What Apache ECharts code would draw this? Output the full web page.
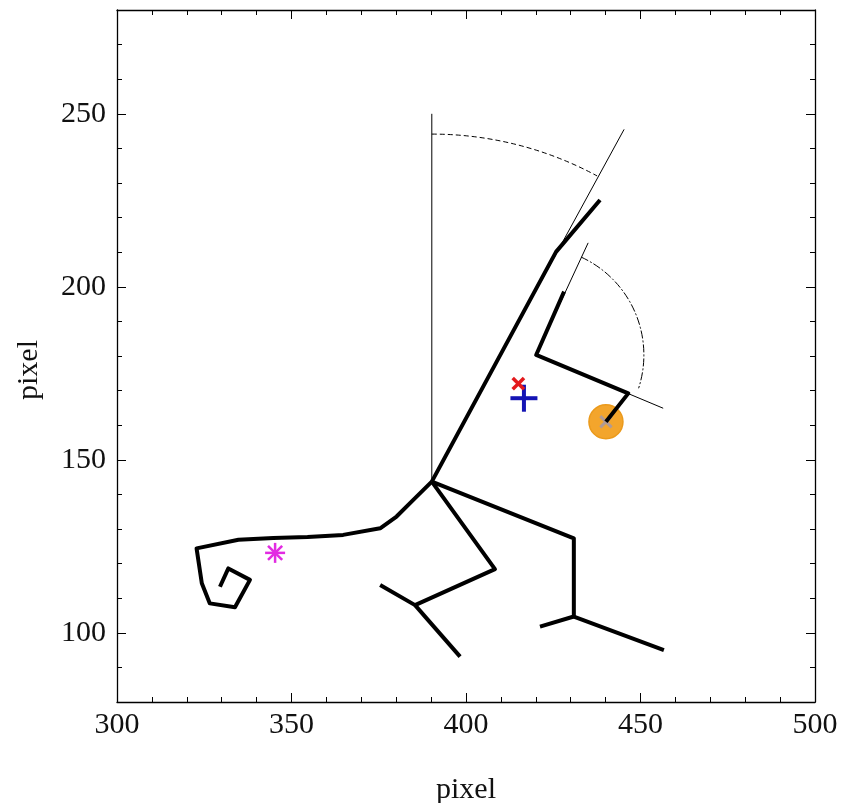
<!DOCTYPE html>
<html>
<head>
<meta charset="utf-8">
<title>pixel</title>
<script src="https://cdn.jsdelivr.net/npm/echarts@6/dist/echarts.min.js"></script>
<style>
  html, body { margin: 0; padding: 0; background: #fff; }
  #chart { width: 843px; height: 803px; }
</style>
</head>
<body>
<div id="chart"></div>
<script>
// Skeleton traced in pixel coordinates: thick polylines
const neckLine   = [[390.2, 143.7], [425.8, 210.1], [438.4, 225.1]];
const leftLimb   = [[390.2, 143.7], [384.9, 138.4], [380.1, 133.6], [375.4, 130.2], [364.8, 128.3],
                    [354.6, 127.7], [344.8, 127.4], [334.8, 126.9], [322.8, 124.4], [324.3, 114.3],
                    [326.6, 108.5], [333.8, 107.4], [338.1, 115.3], [331.9, 118.6], [329.5, 113.3]];
const limbA      = [[390.2, 143.7], [408.3, 118.4], [385.4, 108.0], [375.4, 113.8]];
const limbAFoot  = [[385.4, 108.0], [398.3, 93.1]];
const limbB      = [[390.2, 143.7], [430.9, 127.3], [430.9, 104.7], [421.2, 101.8]];
const limbBFoot  = [[430.9, 104.7], [456.7, 95.0]];
const armLine    = [[428.1, 198.6], [420.1, 180.3], [446.5, 169.2], [440.1, 161.0]];

// Thin reference lines for the measured angles
const verticalRef = [[390.2, 143.7], [390.2, 250.0]];
const neckAxis    = [[390.2, 143.7], [445.3, 245.5]];
const armAxisUp   = [[420.1, 180.3], [435.0, 212.7]];
const armAxisSide = [[420.1, 180.3], [456.5, 164.9]];

// Angle arcs: [centre x, centre y, radius, start angle (deg), end angle (deg)]
const neckArc = [[390.2, 143.7, 100, 90, 61.6]];
const armArc  = [[420.1, 180.3, 31, 65.3, -18]];

// Point markers
const redCross     = [[415.0, 172.0]];
const bluePlus     = [[416.6, 167.8]];
const magentaStar  = [[345.3, 123.1]];
const orangeTarget = [[440.1, 161.0]];

// Axis ticks
const xMin = 300, xMax = 500, xStep = 50;
const yMin = 80, yMax = 280;
const yMajorTicks = [100, 150, 200, 250];
const yMinorTicks = [80, 90, 110, 120, 130, 140, 160, 170, 180, 190, 210, 220, 230, 240, 260, 270, 280];

const FONT = 'Liberation Serif';

function polyline(data, width) {
  return {
    type: 'line', data: data, xAxisIndex: 0, yAxisIndex: 0,
    symbol: 'none', silent: true, animation: false,
    lineStyle: { color: '#000', width: width, cap: 'butt', join: 'round' },
    z: 4
  };
}

function arcSeries(data, dash) {
  return {
    type: 'custom', data: data, xAxisIndex: 0, yAxisIndex: 0, silent: true, animation: false, z: 4,
    renderItem: function (params, api) {
      const c = api.coord([api.value(0), api.value(1)]);
      const s = api.size([api.value(2), api.value(2)]);
      const r = (s[0] + s[1]) / 2;
      return {
        type: 'arc',
        shape: { cx: c[0], cy: c[1], r: r,
                 startAngle: -api.value(3) * Math.PI / 180,
                 endAngle: -api.value(4) * Math.PI / 180, clockwise: true },
        style: { stroke: '#000', fill: null, lineWidth: 1, lineDash: dash }
      };
    }
  };
}

// Marker made of straight strokes through the point, at the given angles
function strokeMarker(data, angles, half, width, color, z) {
  return {
    type: 'custom', data: data, xAxisIndex: 0, yAxisIndex: 0, silent: true, animation: false, z: z,
    renderItem: function (params, api) {
      const c = api.coord([api.value(0), api.value(1)]);
      const children = angles.map(function (a) {
        const t = a * Math.PI / 180;
        const dx = Math.cos(t) * half, dy = Math.sin(t) * half;
        return {
          type: 'line',
          shape: { x1: c[0] - dx, y1: c[1] + dy, x2: c[0] + dx, y2: c[1] - dy },
          style: { stroke: color, lineWidth: width, lineCap: 'butt' }
        };
      });
      return { type: 'group', children: children };
    }
  };
}

const axisLineStyle = { show: true, lineStyle: { color: '#000', width: 1.3 } };
const labelStyle = { fontFamily: FONT, fontSize: 30, color: '#111' };

function xAxisDef(pos, withLabels) {
  return {
    type: 'value', position: pos, min: xMin, max: xMax, interval: xStep,
    axisLine: axisLineStyle,
    axisTick: { show: true, inside: true, length: 9, lineStyle: { color: '#000', width: 1 } },
    minorTick: { show: true, splitNumber: 5, length: 5, lineStyle: { color: '#000', width: 1 } },
    axisLabel: Object.assign({ show: withLabels, margin: 8 }, labelStyle),
    splitLine: { show: false }, minorSplitLine: { show: false },
    name: withLabels ? 'pixel' : '', nameLocation: 'middle', nameGap: 73,
    nameTextStyle: labelStyle
  };
}

function yAxisDef(pos, ticks, len, withLabels, showLine) {
  return {
    type: 'value', position: pos, min: yMin, max: yMax,
    axisLine: showLine ? axisLineStyle : { show: false },
    axisTick: { show: true, inside: true, length: len, customValues: ticks,
                lineStyle: { color: '#000', width: 1 } },
    axisLabel: Object.assign({ show: withLabels, margin: 11, customValues: ticks }, labelStyle),
    splitLine: { show: false },
    name: withLabels ? 'pixel' : '', nameLocation: 'middle', nameGap: 73,
    nameTextStyle: Object.assign({ padding: [0, 28, 0, 0] }, labelStyle)
  };
}

const chart = echarts.init(document.getElementById('chart'), null, { renderer: 'canvas' });
chart.setOption({
  backgroundColor: '#fff',
  animation: false,
  grid: { left: 117, right: 28, top: 10, bottom: 101, containLabel: false, outerBoundsMode: 'none' },
  xAxis: [xAxisDef('bottom', true), xAxisDef('top', false)],
  yAxis: [
    yAxisDef('left', yMajorTicks, 9, true, true),
    yAxisDef('left', yMinorTicks, 5, false, false),
    yAxisDef('right', yMajorTicks, 9, false, true),
    yAxisDef('right', yMinorTicks, 5, false, false)
  ],
  series: [
    {
      type: 'scatter', data: orangeTarget, xAxisIndex: 0, yAxisIndex: 0, silent: true, z: 2,
      symbol: 'circle', symbolSize: 34,
      itemStyle: { color: '#f3a52c', opacity: 1, borderColor: '#eb9a1c', borderWidth: 1.5 }
    },
    strokeMarker(orangeTarget, [45, -45], 8, 3, '#b09a94', 3),
    polyline(verticalRef, 1),
    polyline(neckAxis, 1),
    polyline(armAxisUp, 1),
    polyline(armAxisSide, 1),
    arcSeries(neckArc, [5, 3]),
    arcSeries(armArc, [8, 2, 2, 2]),
    polyline(neckLine, 4),
    polyline(leftLimb, 4),
    polyline(limbA, 4),
    polyline(limbAFoot, 4),
    polyline(limbB, 4),
    polyline(limbBFoot, 4),
    polyline(armLine, 4),
    strokeMarker(bluePlus, [0, 90], 13.5, 4, '#1414b4', 6),
    strokeMarker(redCross, [45, -45], 8, 3.5, '#e3191c', 7),
    strokeMarker(magentaStar, [0, 45, 90, 135], 10, 2.5, '#e22be2', 6)
  ]
});
</script>
</body>
</html>
